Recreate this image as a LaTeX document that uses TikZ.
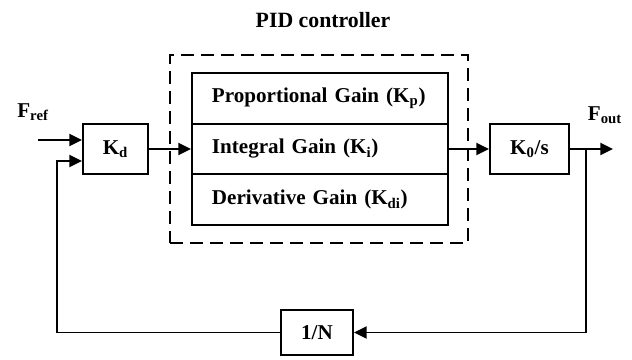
\documentclass[tikz,border=0pt]{standalone}
\usepackage{fontspec}
\setmainfont{Liberation Serif}
\usetikzlibrary{arrows.meta}
\begin{document}
\begin{tikzpicture}[x=0.025cm, y=-0.025cm, line width=1.4pt,
  every node/.style={font=\fontsize{15}{18}\selectfont\bfseries, inner sep=0pt},
  block/.style={draw, minimum height=1.25cm},
  gainrow/.style={draw, minimum height=1.27cm, text width=5.4cm, inner xsep=0.5cm, align=left},
  >={Triangle[length=9pt,width=8.5pt]}]
\useasboundingbox (0,0) rectangle (632,360);
\node[font=\fontsize{15.5}{18}\selectfont\bfseries] (title) at (323,20) {PID controller};
\node[draw, dashed, dash pattern=on 0.33cm off 0.17cm, minimum width=7.45cm, minimum height=4.7cm] (pid) at (319,149) {};
\node[gainrow] (kp) at (320,98.3) {Proportional Gain (K\textsubscript{p})};
\node[gainrow] (ki) at (320,149) {Integral Gain (K\textsubscript{i})};
\node[gainrow] (kdi) at (320,199.7) {Derivative Gain (K\textsubscript{di})};
\node[block, minimum width=1.625cm] (kd) at (115.5,149) {K\textsubscript{d}};
\node[block, minimum width=1.975cm] (k0) at (529.5,149) {K\textsubscript{0}/s};
\node[block, minimum width=1.8cm, minimum height=1.125cm] (n) at (317,332.5) {1/N};
\node (fref) at (33,112) {F\textsubscript{ref}};
\node (fout) at (605,115) {F\textsubscript{out}};
\coordinate (in) at (38,140);
\coordinate (out) at (613,149);
\coordinate (br) at (586,149);
\coordinate (fb) at (57,332.5);
\draw[->] (in) -- (in -| kd.west);
\draw[->] (kd) -- (ki);
\draw[->] (ki) -- (k0);
\draw[->] (k0) -- (out);
\draw[->] (br) |- (n);
\draw[->] (n) -- (fb) |- ([yshift=-0.3cm]kd.west);
\end{tikzpicture}
\end{document}
